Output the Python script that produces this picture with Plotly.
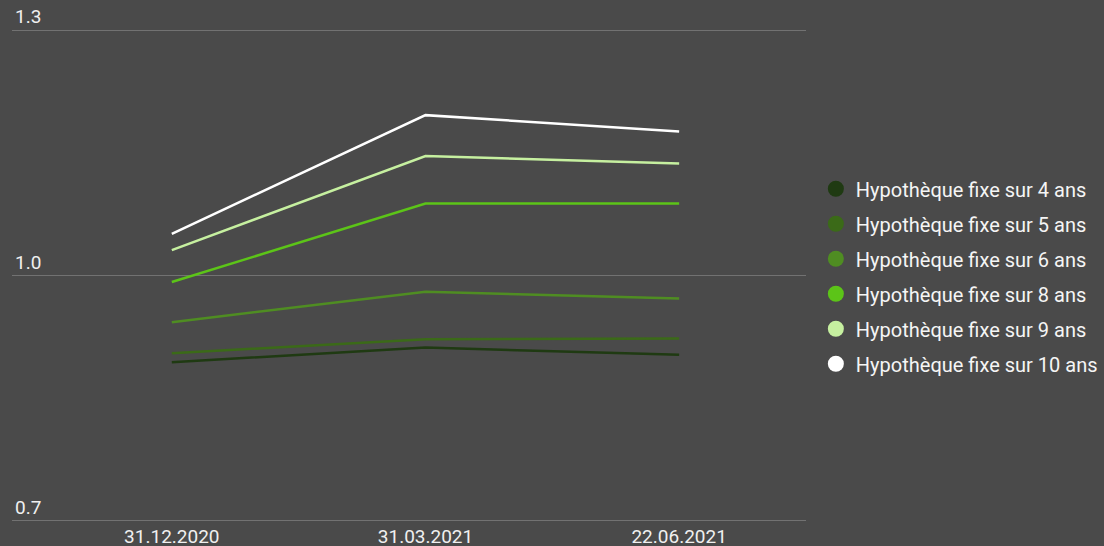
import plotly.graph_objects as go

dates = ["31.12.2020", "31.03.2021", "22.06.2021"]
series_names = [
    "Hypothèque fixe sur 4 ans",
    "Hypothèque fixe sur 5 ans",
    "Hypothèque fixe sur 6 ans",
    "Hypothèque fixe sur 8 ans",
    "Hypothèque fixe sur 9 ans",
    "Hypothèque fixe sur 10 ans",
]
rate_4 = [0.894, 0.912, 0.903]
rate_5 = [0.905, 0.922, 0.923]
rate_6 = [0.943, 0.980, 0.972]
rate_8 = [0.992, 1.088, 1.088]
rate_9 = [1.031, 1.146, 1.137]
rate_10 = [1.051, 1.196, 1.176]
y_ticks = [0.7, 1.0, 1.3]

series_values = [rate_4, rate_5, rate_6, rate_8, rate_9, rate_10]
colors = ["#1f3a12", "#3b6a18", "#4f8d22", "#5cc418", "#c6f0a0", "#ffffff"]

fig = go.Figure()
for i, (name, vals, col) in enumerate(zip(series_names, series_values, colors)):
    fig.add_trace(go.Scatter(
        x=dates, y=vals, mode="lines", name=name,
        line=dict(color=col, width=2.5), showlegend=False,
    ))
for i, (name, col) in enumerate(zip(series_names, colors)):
    fig.add_trace(go.Scatter(
        x=[None], y=[None], mode="markers", name=name,
        marker=dict(color=col, size=16, symbol="circle"),
        legendgroup="g%d" % i,
    ))

fig.update_layout(
    width=1104, height=546,
    paper_bgcolor="#4a4a4a", plot_bgcolor="#4a4a4a",
    margin=dict(l=12, r=298, t=28, b=23, autoexpand=False),
    font=dict(family="Roboto", color="#f0f0f0", size=18),
    legend=dict(
        xref="container", yref="container",
        x=0.739, y=0.494, xanchor="left", yanchor="middle",
        font=dict(size=20, color="#f5f5f5"),
        tracegroupgap=6, traceorder="grouped",
        bgcolor="rgba(0,0,0,0)",
    ),
    xaxis=dict(
        type="category", range=[-0.63, 2.5], automargin=False,
        showgrid=False, zeroline=False, showline=False,
        tickfont=dict(size=19, color="#f0f0f0"), ticks="",
        ticklabelstandoff=0,
    ),
    yaxis=dict(
        range=[0.6975, 1.3025], tickvals=y_ticks, ticktext=["0.7", "1.0", "1.3"],
        ticklabelposition="inside top", ticklabeloverflow="allow", automargin=False,
        showgrid=True, gridcolor="#727272", gridwidth=1,
        zeroline=False, showline=False,
        tickfont=dict(size=19, color="#f0f0f0"),
    ),
)

fig.write_html("out.html", config={"displayModeBar": False},
               post_script="document.body.style.margin='0';document.body.style.background='#4a4a4a';")
